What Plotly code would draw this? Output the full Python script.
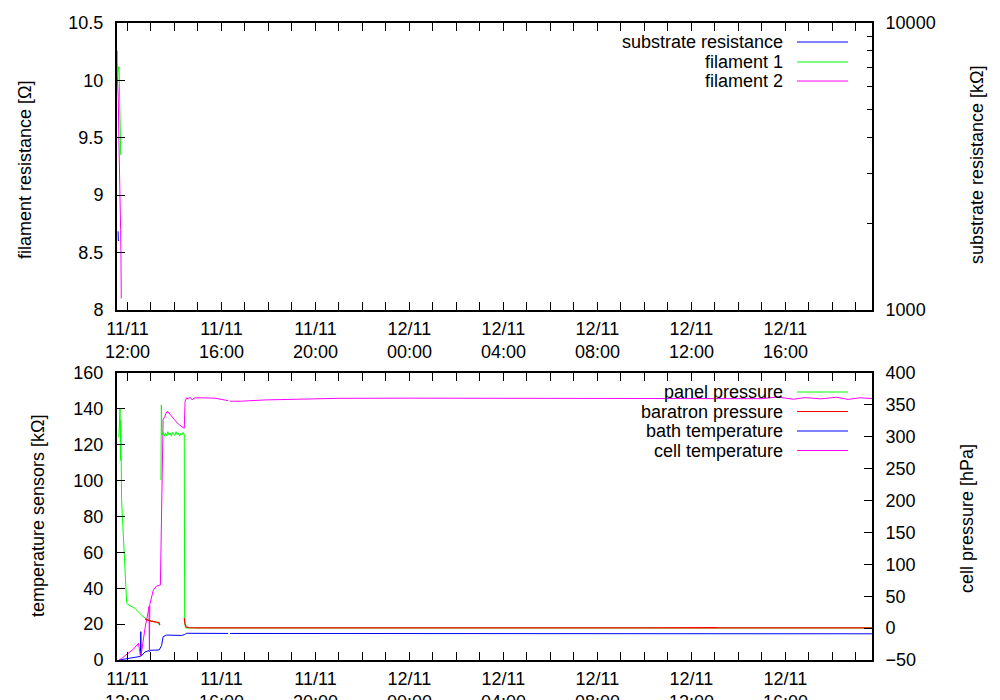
import plotly.graph_objects as go

# ---------------- data: top panel ----------------
fil1_time = ["2010-11-11 11:34:00", "2010-11-11 11:34:40", "2010-11-11 11:36:00", "2010-11-11 11:38:30",
             "2010-11-11 11:39:10", "2010-11-11 11:41:30", "2010-11-11 11:42:40"]
fil1_val = [10.26, 10.0, 10.1, 10.12, 9.98, 9.65, 9.35]

fil2_time = ["2010-11-11 11:34:00", "2010-11-11 11:35:00", "2010-11-11 11:36:30", "2010-11-11 11:38:00",
             "2010-11-11 11:40:55", "2010-11-11 11:42:30", "2010-11-11 11:43:25", "2010-11-11 11:44:10"]
fil2_val = [10.03, 9.95, 9.85, 9.5, 9.1, 8.7, 8.45, 8.1]

subst_time = ["2010-11-11 11:36:00", "2010-11-11 11:36:40", "2010-11-11 11:37:20", "2010-11-11 11:38:00"]
subst_val = [1880, 1740, 1830, 1750]

# ---------------- data: bottom panel ----------------
panel_time = ["2010-11-11 11:38", "2010-11-11 11:41", "2010-11-11 11:42", "2010-11-11 11:43", "2010-11-11 11:45",
              "2010-11-11 11:51", "2010-11-11 11:58", "2010-11-11 12:04", "2010-11-11 12:19", "2010-11-11 12:36",
              "2010-11-11 12:52", "2010-11-11 13:14", "2010-11-11 13:23", "2010-11-11 13:24",
              "2010-11-11 13:25:30", "2010-11-11 13:26:30", "2010-11-11 13:28", "2010-11-11 13:31",
              "2010-11-11 13:34", "2010-11-11 13:37", "2010-11-11 13:40", "2010-11-11 13:43", "2010-11-11 13:46",
              "2010-11-11 13:49", "2010-11-11 13:52", "2010-11-11 13:55", "2010-11-11 13:58", "2010-11-11 14:01",
              "2010-11-11 14:04", "2010-11-11 14:07", "2010-11-11 14:10", "2010-11-11 14:13", "2010-11-11 14:16",
              "2010-11-11 14:19", "2010-11-11 14:22", "2010-11-11 14:25", "2010-11-11 14:26", "2010-11-11 14:28",
              "2010-11-11 15:00", "2010-11-12 19:41"]
panel_val = [299, 344, 263, 326, 200, 122, 39, 36, 31, 20, 12.6, 9.5, 4.8, None,
             232, 350, 303, 307, 301, 306, 302, 308, 303, 306, 301, 307, 304, 302, 308, 303, 306, 301, 305,
             303, 307, 304, 10, 0.3, 0.3, 0.3]

bara_time = ["2010-11-11 11:35:30", "2010-11-11 11:36:30", "2010-11-11 11:37",
             "2010-11-11 12:45", "2010-11-11 12:53", "2010-11-11 13:00", "2010-11-11 13:14", "2010-11-11 13:20",
             "2010-11-11 13:23", "2010-11-11 13:24",
             "2010-11-11 14:25", "2010-11-11 14:27", "2010-11-11 14:30", "2010-11-11 14:35", "2010-11-11 15:00",
             "2010-11-11 18:00", "2010-11-11 22:00", "2010-11-12 04:00", "2010-11-12 10:00", "2010-11-12 13:00",
             "2010-11-12 13:10", "2010-11-12 19:41"]
bara_val = [0, 0, None,
            14.5, 12.6, 11, 9.5, 9, 4.8, None,
            15.8, 6, 2, 0.8, 0.4, 0.3, 0.4, 0.3, 0.3, 0.9, 0.3, 0.3]

bath_time = ["2010-11-11 11:38", "2010-11-11 12:00", "2010-11-11 12:30", "2010-11-11 12:33", "2010-11-11 12:34",
             "2010-11-11 12:35", "2010-11-11 12:45", "2010-11-11 12:57", "2010-11-11 13:21", "2010-11-11 13:27",
             "2010-11-11 13:31", "2010-11-11 13:40", "2010-11-11 14:18", "2010-11-11 14:25", "2010-11-11 14:31",
             "2010-11-11 15:05", "2010-11-11 16:17", "2010-11-11 16:19", "2010-11-11 16:22", "2010-11-12 02:00",
             "2010-11-12 12:00", "2010-11-12 19:41"]
bath_val = [0, 0.8, 1.7, 2, 15.8, 2.2, 4.5, 5.4, 5.6, 8, 13, 13.9, 13.7, 14.1, 14.9, 14.8, 14.8, None,
            14.8, 14.7, 14.6, 14.6]

cell_time = ["2010-11-11 11:38", "2010-11-11 11:45", "2010-11-11 12:00", "2010-11-11 12:15", "2010-11-11 12:28",
             "2010-11-11 12:33", "2010-11-11 12:35", "2010-11-11 12:40", "2010-11-11 12:45", "2010-11-11 12:53",
             "2010-11-11 12:55", "2010-11-11 12:56", "2010-11-11 12:57", "2010-11-11 13:06", "2010-11-11 13:14",
             "2010-11-11 13:24", "2010-11-11 13:31", "2010-11-11 13:35", "2010-11-11 13:40", "2010-11-11 13:43",
             "2010-11-11 13:50", "2010-11-11 14:00", "2010-11-11 14:10", "2010-11-11 14:20", "2010-11-11 14:25",
             "2010-11-11 14:27", "2010-11-11 14:29", "2010-11-11 14:31", "2010-11-11 14:35", "2010-11-11 14:40",
             "2010-11-11 14:45", "2010-11-11 14:50", "2010-11-11 15:00", "2010-11-11 15:43", "2010-11-11 16:17",
             "2010-11-11 16:19", "2010-11-11 16:22", "2010-11-11 16:51", "2010-11-11 17:51", "2010-11-11 19:20",
             "2010-11-11 21:00", "2010-11-12 00:00", "2010-11-12 08:00", "2010-11-12 12:00", "2010-11-12 14:00",
             "2010-11-12 15:00", "2010-11-12 15:40", "2010-11-12 16:20", "2010-11-12 16:50", "2010-11-12 17:30",
             "2010-11-12 18:10", "2010-11-12 18:40", "2010-11-12 19:10", "2010-11-12 19:41"]
cell_val = [0, 0.8, 3.5, 6, 9.3, 2.5, 3, 11, 18, 27, 30, 4.6, 31, 39, 41.2, 41.8, 134, 135.6, 138.3, 138.5,
            136.5, 134, 131.5, 129.7, 129.2, 144, 146, 146.2, 145.5, 146.5, 145, 146, 146.2, 146, 144.6,
            None, 144.3, 144.3, 145, 145.5, 145.9, 146, 146, 146, 146.1, 145.7, 146.6, 145.4, 146.3, 145.6,
            146.5, 145.3, 146.2, 145.8]

FONT = "Liberation Sans, Arial, sans-serif"
FS = 18
GREEN, RED, BLUE, MAG = "#00ff00", "#ff0000", "#0000ff", "#ff00ff"

fig = go.Figure()
# top panel
fig.add_trace(go.Scatter(x=subst_time, y=subst_val, mode="lines", line=dict(color=BLUE, width=1),
                         xaxis="x", yaxis="y2", name="substrate resistance", showlegend=False))
fig.add_trace(go.Scatter(x=fil1_time, y=fil1_val, mode="lines", line=dict(color=GREEN, width=1),
                         xaxis="x", yaxis="y", name="filament 1", showlegend=False))
fig.add_trace(go.Scatter(x=fil2_time, y=fil2_val, mode="lines", line=dict(color=MAG, width=1),
                         xaxis="x", yaxis="y", name="filament 2", showlegend=False))
# bottom panel
fig.add_trace(go.Scatter(x=panel_time, y=panel_val, mode="lines", line=dict(color=GREEN, width=1),
                         xaxis="x2", yaxis="y4", name="panel pressure", showlegend=False, connectgaps=False))
fig.add_trace(go.Scatter(x=bara_time, y=bara_val, mode="lines", line=dict(color=RED, width=1.2),
                         xaxis="x2", yaxis="y4", name="baratron pressure", showlegend=False, connectgaps=False))
fig.add_trace(go.Scatter(x=bath_time, y=bath_val, mode="lines", line=dict(color=BLUE, width=1),
                         xaxis="x2", yaxis="y3", name="bath temperature", showlegend=False, connectgaps=False))
fig.add_trace(go.Scatter(x=cell_time, y=cell_val, mode="lines", line=dict(color=MAG, width=1),
                         xaxis="x2", yaxis="y3", name="cell temperature", showlegend=False, connectgaps=False))

XR = ["2010-11-11 11:33:15", "2010-11-12 19:41:00"]
TOP_DOM = [0.5495, 1.0]
BOT_DOM = [0.0, 0.4505]

xcommon = dict(type="date", range=XR, tickformat="%d/%m<br>%H:%M", dtick=4 * 3600000,
               tick0="2010-11-11 00:00", ticks="inside", ticklen=8, tickwidth=1, tickcolor="black",
               showline=True, linecolor="black", linewidth=2, mirror="allticks", showgrid=False, zeroline=False,
               ticklabelstandoff=1, automargin=False,
               minor=dict(dtick=3600000, tick0="2010-11-11 00:00", ticks="inside", ticklen=5,
                          tickcolor="black", showgrid=False),
               tickfont=dict(family=FONT, size=FS, color="black"))
ycommon = dict(ticks="inside", ticklen=8, tickwidth=1, tickcolor="black", showline=True, linecolor="black",
               linewidth=2, showgrid=False, zeroline=False, ticklabelstandoff=8, automargin=False,
               tickfont=dict(family=FONT, size=FS, color="black"))

# the page body adds an 8 px offset, so the figure is 8 px smaller on each axis
fig.update_layout(
    width=992, height=692, plot_bgcolor="white", paper_bgcolor="white",
    margin=dict(l=109, r=128, t=15, b=40, autoexpand=False),
    font=dict(family=FONT, size=FS, color="black"),
    showlegend=False,
    xaxis=dict(domain=[0, 1], anchor="y", **xcommon),
    xaxis2=dict(domain=[0, 1], anchor="y3", **xcommon),
    yaxis=dict(domain=TOP_DOM, anchor="x", range=[8, 10.5], dtick=0.5, mirror=True, **ycommon),
    yaxis2=dict(overlaying="y", side="right", anchor="x", type="log", range=[3, 4],
                tickvals=[1000, 10000], ticktext=["1000", "10000"],
                minor=dict(tickvals=[2000, 3000, 4000, 5000, 6000, 7000, 8000, 9000], ticks="inside",
                           ticklen=5, tickcolor="black", showgrid=False),
                **ycommon),
    yaxis3=dict(domain=BOT_DOM, anchor="x2", range=[0, 160], dtick=20, mirror=True, **ycommon),
    yaxis4=dict(overlaying="y3", side="right", anchor="x2", range=[-50, 400], dtick=50, **ycommon),
)


def px_x(px):
    return (px - 117) / 755.0


def px_y(py):
    return (660 - py) / 637.0


# axis titles
titles = [("filament resistance [Ω]", 25, 170), ("temperature sensors [kΩ]", 38, 516),
          ("substrate resistance [kΩ]", 977, 165), ("cell pressure [hPa]", 967, 519)]
for txt, ax, ay in titles:
    fig.add_annotation(text=txt, xref="paper", yref="paper", x=px_x(ax), y=px_y(ay), textangle=-90,
                       showarrow=False, xanchor="center", yanchor="middle",
                       font=dict(family=FONT, size=FS, color="black"))

# legends (gnuplot style: text right-aligned, sample line to the right)
legend_items = [("substrate resistance", BLUE, 42), ("filament 1", GREEN, 62), ("filament 2", MAG, 81),
                ("panel pressure", GREEN, 392), ("baratron pressure", RED, 411.5),
                ("bath temperature", BLUE, 431), ("cell temperature", MAG, 450.5)]
for txt, col, ly in legend_items:
    fig.add_annotation(text=txt, xref="paper", yref="paper", x=px_x(785), y=px_y(ly), showarrow=False,
                       xanchor="right", yanchor="middle", font=dict(family=FONT, size=FS, color="black"))
    fig.add_shape(type="line", xref="paper", yref="paper", x0=px_x(797), x1=px_x(848), y0=px_y(ly), y1=px_y(ly),
                  line=dict(color=col, width=1))

fig.write_html("out.html")
